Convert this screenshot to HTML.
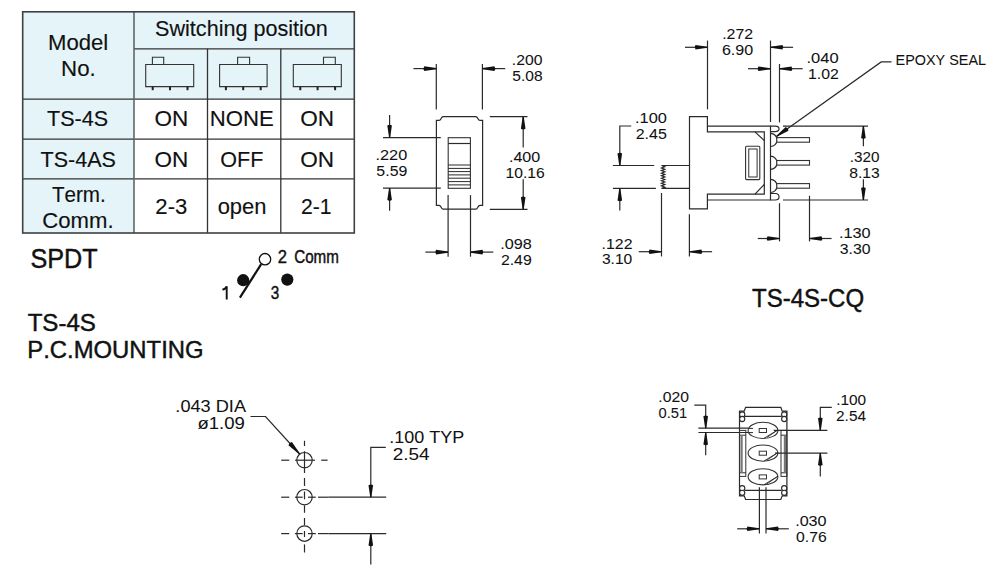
<!DOCTYPE html>
<html><head><meta charset="utf-8"><style>
html,body{margin:0;padding:0;background:#fff;width:1000px;height:576px;overflow:hidden}
svg{display:block}
text{font-family:"Liberation Sans",sans-serif;font-kerning:none}
</style></head><body>
<svg width="1000" height="576" viewBox="0 0 1000 576">
<rect width="1000" height="576" fill="#fff"/>
<rect x="22.7" y="11.8" width="331.6" height="87.4" fill="#e4f4f9"/>
<rect x="22.7" y="99.2" width="111.3" height="133.8" fill="#e4f4f9"/>
<line x1="22.7" y1="99.2" x2="354.3" y2="99.2" stroke="#333" stroke-width="1.3" />
<line x1="22.7" y1="139.2" x2="354.3" y2="139.2" stroke="#333" stroke-width="1.3" />
<line x1="22.7" y1="178.9" x2="354.3" y2="178.9" stroke="#333" stroke-width="1.3" />
<line x1="134" y1="48.8" x2="354.3" y2="48.8" stroke="#333" stroke-width="1.3" />
<line x1="134" y1="11.8" x2="134" y2="233" stroke="#5d6868" stroke-width="1.6" />
<line x1="207.5" y1="48.8" x2="207.5" y2="233" stroke="#333" stroke-width="1.3" />
<line x1="280.8" y1="48.8" x2="280.8" y2="233" stroke="#333" stroke-width="1.3" />
<rect x="22.7" y="11.8" width="331.6" height="221.2" fill="none" stroke="#3c4242" stroke-width="1.6"/>
<text x="155.10" y="36.22" font-size="22.40" textLength="172.73" lengthAdjust="spacingAndGlyphs" fill="#111"  stroke="#111" stroke-width="0.15">Switching position</text>
<text x="48.06" y="50.42" font-size="22.40" textLength="60.24" lengthAdjust="spacingAndGlyphs" fill="#111"  stroke="#111" stroke-width="0.15">Model</text>
<text x="61.05" y="76.17" font-size="22.40" textLength="34.66" lengthAdjust="spacingAndGlyphs" fill="#111"  stroke="#111" stroke-width="0.15">No.</text>
<text x="46.99" y="125.72" font-size="22.40" textLength="61.12" lengthAdjust="spacingAndGlyphs" fill="#111"  stroke="#111" stroke-width="0.15">TS-4S</text>
<text x="154.41" y="125.72" font-size="22.40" textLength="33.75" lengthAdjust="spacingAndGlyphs" fill="#111"  stroke="#111" stroke-width="0.15">ON</text>
<text x="209.86" y="125.72" font-size="22.40" textLength="64.02" lengthAdjust="spacingAndGlyphs" fill="#111"  stroke="#111" stroke-width="0.15">NONE</text>
<text x="300.31" y="125.72" font-size="22.40" textLength="33.86" lengthAdjust="spacingAndGlyphs" fill="#111"  stroke="#111" stroke-width="0.15">ON</text>
<text x="40.49" y="166.62" font-size="22.40" textLength="75.42" lengthAdjust="spacingAndGlyphs" fill="#111"  stroke="#111" stroke-width="0.15">TS-4AS</text>
<text x="154.41" y="166.62" font-size="22.40" textLength="33.75" lengthAdjust="spacingAndGlyphs" fill="#111"  stroke="#111" stroke-width="0.15">ON</text>
<text x="220.35" y="166.62" font-size="22.40" textLength="43.14" lengthAdjust="spacingAndGlyphs" fill="#111"  stroke="#111" stroke-width="0.15">OFF</text>
<text x="300.31" y="166.62" font-size="22.40" textLength="33.86" lengthAdjust="spacingAndGlyphs" fill="#111"  stroke="#111" stroke-width="0.15">ON</text>
<text x="51.91" y="201.83" font-size="22.40" textLength="53.90" lengthAdjust="spacingAndGlyphs" fill="#111"  stroke="#111" stroke-width="0.15">Term.</text>
<text x="42.25" y="227.73" font-size="22.40" textLength="71.29" lengthAdjust="spacingAndGlyphs" fill="#111"  stroke="#111" stroke-width="0.15">Comm.</text>
<text x="155.36" y="213.93" font-size="22.40" textLength="31.93" lengthAdjust="spacingAndGlyphs" fill="#111"  stroke="#111" stroke-width="0.15">2-3</text>
<text x="217.65" y="213.93" font-size="22.40" textLength="48.80" lengthAdjust="spacingAndGlyphs" fill="#111"  stroke="#111" stroke-width="0.15">open</text>
<text x="301.01" y="213.93" font-size="22.40" textLength="30.54" lengthAdjust="spacingAndGlyphs" fill="#111"  stroke="#111" stroke-width="0.15">2-1</text>
<path d="M145.7,64.5 H193.7 V86.6 H145.7 Z" stroke="#333" stroke-width="1.1" fill="none" />
<path d="M152.4,64.5 V57.3 H163.7 V64.5" stroke="#333" stroke-width="1.1" fill="none" />
<line x1="152.70000000000002" y1="86.6" x2="152.70000000000002" y2="90.2" stroke="#222" stroke-width="2.0" />
<line x1="170.0" y1="86.6" x2="170.0" y2="90.2" stroke="#222" stroke-width="2.0" />
<line x1="187.5" y1="86.6" x2="187.5" y2="90.2" stroke="#222" stroke-width="2.0" />
<path d="M219.6,64.5 H267.1 V86.6 H219.6 Z" stroke="#333" stroke-width="1.1" fill="none" />
<path d="M237.6,64.5 V57.3 H249.6 V64.5" stroke="#333" stroke-width="1.1" fill="none" />
<line x1="225.9" y1="86.6" x2="225.9" y2="90.2" stroke="#222" stroke-width="2.0" />
<line x1="243.20000000000002" y1="86.6" x2="243.20000000000002" y2="90.2" stroke="#222" stroke-width="2.0" />
<line x1="260.7" y1="86.6" x2="260.7" y2="90.2" stroke="#222" stroke-width="2.0" />
<path d="M293.3,64.5 H341.3 V86.6 H293.3 Z" stroke="#333" stroke-width="1.1" fill="none" />
<path d="M323.5,64.5 V57.3 H335.3 V64.5" stroke="#333" stroke-width="1.1" fill="none" />
<line x1="300.3" y1="86.6" x2="300.3" y2="90.2" stroke="#222" stroke-width="2.0" />
<line x1="317.6" y1="86.6" x2="317.6" y2="90.2" stroke="#222" stroke-width="2.0" />
<line x1="335.1" y1="86.6" x2="335.1" y2="90.2" stroke="#222" stroke-width="2.0" />
<text x="30.48" y="267.97" font-size="28.50" textLength="67.27" lengthAdjust="spacingAndGlyphs" fill="#111"  stroke="#111" stroke-width="0.45">SPDT</text>
<text x="27.68" y="330.77" font-size="24.00" textLength="68.19" lengthAdjust="spacingAndGlyphs" fill="#111"  stroke="#111" stroke-width="0.45">TS-4S</text>
<text x="27.27" y="357.77" font-size="24.00" textLength="176.29" lengthAdjust="spacingAndGlyphs" fill="#111"  stroke="#111" stroke-width="0.45">P.C.MOUNTING</text>
<circle cx="265" cy="259.2" r="5.7" fill="none" stroke="#111" stroke-width="1.3"/>
<circle cx="243.2" cy="280.2" r="6.1" fill="#111"/>
<circle cx="287.3" cy="279.6" r="6.1" fill="#111"/>
<line x1="239.9" y1="297.6" x2="261.2" y2="264.2" stroke="#111" stroke-width="2.2" />
<path d="M226.7,299.6 V286.3 C225.9,288.4 224.2,289.3 222.4,289.6" stroke="#111" stroke-width="1.9" fill="none" />
<text x="270.64" y="299.27" font-size="19.20" textLength="8.50" lengthAdjust="spacingAndGlyphs" fill="#111"  stroke="#111" stroke-width="0.45">3</text>
<text x="277.69" y="263.27" font-size="19.20" textLength="9.22" lengthAdjust="spacingAndGlyphs" fill="#111"  stroke="#111" stroke-width="0.45">2</text>
<text x="294.20" y="263.07" font-size="18.00" textLength="44.67" lengthAdjust="spacingAndGlyphs" fill="#111"  stroke="#111" stroke-width="0.45">Comm</text>
<path d="M436.4,120.4 H439 C441.5,120.4 440.8,116.6 443.2,116.6 H475.8 C478.2,116.6 477.5,120.4 480,120.4 H482.6 V205.3 H480 C477.5,205.3 478.2,209.2 475.8,209.2 H443.2 C440.8,209.2 441.5,205.3 439,205.3 H436.4 Z" stroke="#2a2a2a" stroke-width="1.2" fill="none" />
<rect x="448.2" y="137.7" width="22.2" height="50.6" fill="none" stroke="#333" stroke-width="1.1"/>
<line x1="448.2" y1="143.5" x2="470.4" y2="143.5" stroke="#2a2a2a" stroke-width="1.2" />
<line x1="448.2" y1="165" x2="470.4" y2="165" stroke="#2a2a2a" stroke-width="1.0" />
<line x1="448.2" y1="168.4" x2="470.4" y2="168.4" stroke="#2a2a2a" stroke-width="1.0" />
<line x1="448.2" y1="171.6" x2="470.4" y2="171.6" stroke="#2a2a2a" stroke-width="1.0" />
<line x1="448.2" y1="174.9" x2="470.4" y2="174.9" stroke="#2a2a2a" stroke-width="1.0" />
<line x1="448.2" y1="178.2" x2="470.4" y2="178.2" stroke="#2a2a2a" stroke-width="1.0" />
<line x1="448.2" y1="181.6" x2="470.4" y2="181.6" stroke="#2a2a2a" stroke-width="1.0" />
<line x1="448.2" y1="184.9" x2="470.4" y2="184.9" stroke="#2a2a2a" stroke-width="1.0" />
<line x1="436.3" y1="64" x2="436.3" y2="109.5" stroke="#2a2a2a" stroke-width="1.2" />
<line x1="482.4" y1="64" x2="482.4" y2="109.5" stroke="#2a2a2a" stroke-width="1.2" />
<line x1="413.5" y1="68.6" x2="436.3" y2="68.6" stroke="#2a2a2a" stroke-width="1.2" />
<path d="M436.30,69.15 L424.30,70.90 Q422.70,68.60 424.30,66.30 L436.30,68.05 Z" fill="#111"/>
<line x1="482.4" y1="68.6" x2="505.2" y2="68.6" stroke="#2a2a2a" stroke-width="1.2" />
<path d="M482.40,68.05 L494.40,66.30 Q496.00,68.60 494.40,70.90 L482.40,69.15 Z" fill="#111"/>
<text x="511.89" y="65.47" font-size="14.20" textLength="30.60" lengthAdjust="spacingAndGlyphs" fill="#111"  stroke="#111" stroke-width="0.05">.200</text>
<text x="512.30" y="81.17" font-size="14.20" textLength="30.25" lengthAdjust="spacingAndGlyphs" fill="#111"  stroke="#111" stroke-width="0.05">5.08</text>
<line x1="383" y1="137.6" x2="440.8" y2="137.6" stroke="#2a2a2a" stroke-width="1.2" />
<line x1="383" y1="188.1" x2="440.8" y2="188.1" stroke="#2a2a2a" stroke-width="1.2" />
<line x1="389.6" y1="115" x2="389.6" y2="137.6" stroke="#2a2a2a" stroke-width="1.2" />
<path d="M389.05,137.60 L387.30,125.60 Q389.60,124.00 391.90,125.60 L390.15,137.60 Z" fill="#111"/>
<line x1="389.6" y1="210.7" x2="389.6" y2="188.1" stroke="#2a2a2a" stroke-width="1.2" />
<path d="M390.15,188.10 L391.90,200.10 Q389.60,201.70 387.30,200.10 L389.05,188.10 Z" fill="#111"/>
<text x="375.54" y="159.68" font-size="14.20" textLength="31.67" lengthAdjust="spacingAndGlyphs" fill="#111"  stroke="#111" stroke-width="0.05">.220</text>
<text x="376.39" y="175.57" font-size="14.20" textLength="30.94" lengthAdjust="spacingAndGlyphs" fill="#111"  stroke="#111" stroke-width="0.05">5.59</text>
<line x1="489.8" y1="116.7" x2="527.5" y2="116.7" stroke="#2a2a2a" stroke-width="1.2" />
<line x1="489.8" y1="209.3" x2="527.5" y2="209.3" stroke="#2a2a2a" stroke-width="1.2" />
<line x1="523.2" y1="116.7" x2="523.2" y2="147.4" stroke="#2a2a2a" stroke-width="1.2" />
<path d="M523.75,116.70 L525.50,128.70 Q523.20,130.30 520.90,128.70 L522.65,116.70 Z" fill="#111"/>
<line x1="523.2" y1="179.3" x2="523.2" y2="209.3" stroke="#2a2a2a" stroke-width="1.2" />
<path d="M522.65,209.30 L520.90,197.30 Q523.20,195.70 525.50,197.30 L523.75,209.30 Z" fill="#111"/>
<text x="508.96" y="161.97" font-size="14.20" textLength="31.24" lengthAdjust="spacingAndGlyphs" fill="#111"  stroke="#111" stroke-width="0.05">.400</text>
<text x="505.63" y="177.78" font-size="14.20" textLength="39.13" lengthAdjust="spacingAndGlyphs" fill="#111"  stroke="#111" stroke-width="0.05">10.16</text>
<line x1="448.1" y1="195.1" x2="448.1" y2="256.7" stroke="#2a2a2a" stroke-width="1.2" />
<line x1="470.5" y1="195.1" x2="470.5" y2="256.7" stroke="#2a2a2a" stroke-width="1.2" />
<line x1="425.4" y1="252.1" x2="448.1" y2="252.1" stroke="#2a2a2a" stroke-width="1.2" />
<path d="M448.10,252.65 L436.10,254.40 Q434.50,252.10 436.10,249.80 L448.10,251.55 Z" fill="#111"/>
<line x1="470.5" y1="252.1" x2="493.3" y2="252.1" stroke="#2a2a2a" stroke-width="1.2" />
<path d="M470.50,251.55 L482.50,249.80 Q484.10,252.10 482.50,254.40 L470.50,252.65 Z" fill="#111"/>
<text x="500.25" y="248.68" font-size="14.20" textLength="31.53" lengthAdjust="spacingAndGlyphs" fill="#111"  stroke="#111" stroke-width="0.05">.098</text>
<text x="500.93" y="264.77" font-size="14.20" textLength="30.80" lengthAdjust="spacingAndGlyphs" fill="#111"  stroke="#111" stroke-width="0.05">2.49</text>
<path d="M689.5,116.7 H707.4 V131.9 H764.3 V194.2 H707.4 V208.9 H689.5 Z" stroke="#2a2a2a" stroke-width="1.2" fill="none" />
<path d="M707.4,126.1 H770.5 V200 H707.4" stroke="#2a2a2a" stroke-width="1.2" fill="none" />
<line x1="755" y1="131.9" x2="764.3" y2="140.6" stroke="#2a2a2a" stroke-width="1.2" />
<line x1="755" y1="194.2" x2="764.3" y2="184.4" stroke="#2a2a2a" stroke-width="1.2" />
<rect x="745.6" y="146.2" width="14.2" height="33.4" rx="1" fill="none" stroke="#333" stroke-width="1.1"/>
<rect x="748.75" y="149" width="8.35" height="28" fill="none" stroke="#333" stroke-width="1.0"/>
<path d="M770.5,126.1 H775.2 C780.3,126.1 780.3,131.6 775.2,131.6 H770.5" stroke="#2a2a2a" stroke-width="1.2" fill="none" />
<path d="M770.5,193.5 H775.2 C780.3,193.5 780.3,200 775.2,200 H770.5" stroke="#2a2a2a" stroke-width="1.2" fill="none" />
<path d="M770.5,133.3 A6.6,6.6 0 0 1 770.5,146.5" stroke="#2a2a2a" stroke-width="1.2" fill="none" />
<rect x="776.8" y="137.6" width="32.7" height="4.6" fill="#fff" stroke="#333" stroke-width="1.1"/>
<path d="M770.5,156.2 A6.6,6.6 0 0 1 770.5,169.4" stroke="#2a2a2a" stroke-width="1.2" fill="none" />
<rect x="776.8" y="160.5" width="32.7" height="4.6" fill="#fff" stroke="#333" stroke-width="1.1"/>
<path d="M770.5,179.3 A6.6,6.6 0 0 1 770.5,192.5" stroke="#2a2a2a" stroke-width="1.2" fill="none" />
<rect x="776.8" y="183.6" width="32.7" height="4.6" fill="#fff" stroke="#333" stroke-width="1.1"/>
<path d="M689.5,165.5 H661.5 L664.8,166.77 L661.5,168.04 L664.8,169.32 L661.5,170.59 L664.8,171.86 L661.5,173.13 L664.8,174.41 L661.5,175.68 L664.8,176.95 L661.5,178.22 L664.8,179.49 L661.5,180.77 L664.8,182.04 L661.5,183.31 L664.8,184.58 L661.5,185.86 L664.8,187.13 L661.5,188.40 H689.5" stroke="#2a2a2a" stroke-width="1.2" fill="none" />
<line x1="612.9" y1="165.5" x2="654.2" y2="165.5" stroke="#2a2a2a" stroke-width="1.2" />
<line x1="612.9" y1="188.4" x2="655.9" y2="188.4" stroke="#2a2a2a" stroke-width="1.2" />
<path d="M631.25,126 H619.8 V165.5" stroke="#2a2a2a" stroke-width="1.2" fill="none" />
<path d="M619.25,165.50 L617.50,153.50 Q619.80,151.90 622.10,153.50 L620.35,165.50 Z" fill="#111"/>
<line x1="619.8" y1="210.4" x2="619.8" y2="188.4" stroke="#2a2a2a" stroke-width="1.2" />
<path d="M620.35,188.40 L622.10,200.40 Q619.80,202.00 617.50,200.40 L619.25,188.40 Z" fill="#111"/>
<text x="635.03" y="122.88" font-size="14.20" textLength="31.83" lengthAdjust="spacingAndGlyphs" fill="#111"  stroke="#111" stroke-width="0.05">.100</text>
<text x="635.72" y="138.88" font-size="14.20" textLength="31.18" lengthAdjust="spacingAndGlyphs" fill="#111"  stroke="#111" stroke-width="0.05">2.45</text>
<line x1="707.5" y1="40.6" x2="707.5" y2="109.4" stroke="#2a2a2a" stroke-width="1.2" />
<line x1="770.5" y1="40.6" x2="770.5" y2="122" stroke="#2a2a2a" stroke-width="1.2" />
<line x1="685" y1="47.3" x2="707.5" y2="47.3" stroke="#2a2a2a" stroke-width="1.2" />
<path d="M707.50,47.85 L695.50,49.60 Q693.90,47.30 695.50,45.00 L707.50,46.75 Z" fill="#111"/>
<line x1="770.5" y1="47.3" x2="793.1" y2="47.3" stroke="#2a2a2a" stroke-width="1.2" />
<path d="M770.50,46.75 L782.50,45.00 Q784.10,47.30 782.50,49.60 L770.50,47.85 Z" fill="#111"/>
<text x="722.18" y="39.08" font-size="14.20" textLength="30.90" lengthAdjust="spacingAndGlyphs" fill="#111"  stroke="#111" stroke-width="0.05">.272</text>
<text x="721.91" y="55.08" font-size="14.20" textLength="31.29" lengthAdjust="spacingAndGlyphs" fill="#111"  stroke="#111" stroke-width="0.05">6.90</text>
<line x1="779.5" y1="64" x2="779.5" y2="122.4" stroke="#2a2a2a" stroke-width="1.2" />
<line x1="748" y1="68.7" x2="770.5" y2="68.7" stroke="#2a2a2a" stroke-width="1.2" />
<path d="M770.50,69.25 L758.50,71.00 Q756.90,68.70 758.50,66.40 L770.50,68.15 Z" fill="#111"/>
<line x1="779.5" y1="68.7" x2="802.7" y2="68.7" stroke="#2a2a2a" stroke-width="1.2" />
<path d="M779.50,68.15 L791.50,66.40 Q793.10,68.70 791.50,71.00 L779.50,69.25 Z" fill="#111"/>
<text x="806.52" y="62.98" font-size="14.20" textLength="32.10" lengthAdjust="spacingAndGlyphs" fill="#111"  stroke="#111" stroke-width="0.05">.040</text>
<text x="808.02" y="78.58" font-size="14.20" textLength="30.75" lengthAdjust="spacingAndGlyphs" fill="#111"  stroke="#111" stroke-width="0.05">1.02</text>
<path d="M891.5,61.9 H881.2 L776.5,136.4" stroke="#2a2a2a" stroke-width="1.2" fill="none" />
<path d="M776.18,135.95 L785.70,126.91 Q788.40,127.94 788.48,130.82 L776.82,136.85 Z" fill="#111"/>
<text x="895.64" y="65.38" font-size="14.20" textLength="90.41" lengthAdjust="spacingAndGlyphs" fill="#111"  stroke="#111" stroke-width="0.05">EPOXY SEAL</text>
<line x1="783" y1="126.1" x2="868" y2="126.1" stroke="#2a2a2a" stroke-width="1.2" />
<line x1="783" y1="200" x2="868" y2="200" stroke="#2a2a2a" stroke-width="1.2" />
<line x1="863.4" y1="126.1" x2="863.4" y2="146.3" stroke="#2a2a2a" stroke-width="1.2" />
<path d="M863.95,126.10 L865.70,138.10 Q863.40,139.70 861.10,138.10 L862.85,126.10 Z" fill="#111"/>
<line x1="863.4" y1="179.3" x2="863.4" y2="200" stroke="#2a2a2a" stroke-width="1.2" />
<path d="M862.85,200.00 L861.10,188.00 Q863.40,186.40 865.70,188.00 L863.95,200.00 Z" fill="#111"/>
<text x="849.83" y="162.07" font-size="14.20" textLength="29.74" lengthAdjust="spacingAndGlyphs" fill="#111"  stroke="#111" stroke-width="0.05">.320</text>
<text x="849.25" y="178.07" font-size="14.20" textLength="30.42" lengthAdjust="spacingAndGlyphs" fill="#111"  stroke="#111" stroke-width="0.05">8.13</text>
<line x1="661.5" y1="193" x2="661.5" y2="256.4" stroke="#2a2a2a" stroke-width="1.2" />
<line x1="689.4" y1="214.3" x2="689.4" y2="256.4" stroke="#2a2a2a" stroke-width="1.2" />
<line x1="638.7" y1="251.7" x2="661.5" y2="251.7" stroke="#2a2a2a" stroke-width="1.2" />
<path d="M661.50,252.25 L649.50,254.00 Q647.90,251.70 649.50,249.40 L661.50,251.15 Z" fill="#111"/>
<line x1="689.4" y1="251.7" x2="712.1" y2="251.7" stroke="#2a2a2a" stroke-width="1.2" />
<path d="M689.40,251.15 L701.40,249.40 Q703.00,251.70 701.40,254.00 L689.40,252.25 Z" fill="#111"/>
<text x="601.58" y="248.68" font-size="14.20" textLength="30.90" lengthAdjust="spacingAndGlyphs" fill="#111"  stroke="#111" stroke-width="0.05">.122</text>
<text x="601.93" y="264.18" font-size="14.20" textLength="30.35" lengthAdjust="spacingAndGlyphs" fill="#111"  stroke="#111" stroke-width="0.05">3.10</text>
<line x1="779.5" y1="203.2" x2="779.5" y2="241.4" stroke="#2a2a2a" stroke-width="1.2" />
<line x1="809.5" y1="195.8" x2="809.5" y2="241.4" stroke="#2a2a2a" stroke-width="1.2" />
<line x1="757.7" y1="238.5" x2="779.5" y2="238.5" stroke="#2a2a2a" stroke-width="1.2" />
<path d="M779.50,239.05 L767.50,240.80 Q765.90,238.50 767.50,236.20 L779.50,237.95 Z" fill="#111"/>
<line x1="809.5" y1="238.5" x2="831.6" y2="238.5" stroke="#2a2a2a" stroke-width="1.2" />
<path d="M809.50,237.95 L821.50,236.20 Q823.10,238.50 821.50,240.80 L809.50,239.05 Z" fill="#111"/>
<text x="838.94" y="237.97" font-size="14.20" textLength="31.67" lengthAdjust="spacingAndGlyphs" fill="#111"  stroke="#111" stroke-width="0.05">.130</text>
<text x="839.82" y="254.18" font-size="14.20" textLength="30.77" lengthAdjust="spacingAndGlyphs" fill="#111"  stroke="#111" stroke-width="0.05">3.30</text>
<text x="751.99" y="306.67" font-size="25.40" textLength="112.14" lengthAdjust="spacingAndGlyphs" fill="#111"  stroke="#111" stroke-width="0.45">TS-4S-CQ</text>
<circle cx="304.5" cy="460.2" r="7.7" fill="none" stroke="#2a2a2a" stroke-width="1.2"/>
<line x1="295.1" y1="460.2" x2="315" y2="460.2" stroke="#2a2a2a" stroke-width="1.2" />
<line x1="321.2" y1="460.2" x2="327.6" y2="460.2" stroke="#2a2a2a" stroke-width="1.2" />
<line x1="281.2" y1="460.2" x2="289.3" y2="460.2" stroke="#2a2a2a" stroke-width="1.2" />
<circle cx="304.5" cy="497.2" r="7.7" fill="none" stroke="#2a2a2a" stroke-width="1.2"/>
<line x1="295" y1="497.2" x2="302.7" y2="497.2" stroke="#2a2a2a" stroke-width="1.2" />
<line x1="308" y1="497.2" x2="315.8" y2="497.2" stroke="#2a2a2a" stroke-width="1.2" />
<line x1="318" y1="497.2" x2="328.3" y2="497.2" stroke="#2a2a2a" stroke-width="1.2" />
<line x1="281.2" y1="497.2" x2="289.3" y2="497.2" stroke="#2a2a2a" stroke-width="1.2" />
<circle cx="304.5" cy="533.6" r="7.7" fill="none" stroke="#2a2a2a" stroke-width="1.2"/>
<line x1="295" y1="533.6" x2="302.7" y2="533.6" stroke="#2a2a2a" stroke-width="1.2" />
<line x1="308" y1="533.6" x2="315.8" y2="533.6" stroke="#2a2a2a" stroke-width="1.2" />
<line x1="318" y1="533.6" x2="328.3" y2="533.6" stroke="#2a2a2a" stroke-width="1.2" />
<line x1="281.2" y1="533.6" x2="289.3" y2="533.6" stroke="#2a2a2a" stroke-width="1.2" />
<line x1="304.5" y1="440.8" x2="304.5" y2="446" stroke="#2a2a2a" stroke-width="1.2" />
<line x1="304.5" y1="451.2" x2="304.5" y2="473" stroke="#2a2a2a" stroke-width="1.2" />
<line x1="304.5" y1="478" x2="304.5" y2="486" stroke="#2a2a2a" stroke-width="1.2" />
<line x1="304.5" y1="491.5" x2="304.5" y2="499.3" stroke="#2a2a2a" stroke-width="1.2" />
<line x1="304.5" y1="505.4" x2="304.5" y2="512.8" stroke="#2a2a2a" stroke-width="1.2" />
<line x1="304.5" y1="518" x2="304.5" y2="525.2" stroke="#2a2a2a" stroke-width="1.2" />
<line x1="304.5" y1="531" x2="304.5" y2="537" stroke="#2a2a2a" stroke-width="1.2" />
<line x1="304.5" y1="544.4" x2="304.5" y2="552.5" stroke="#2a2a2a" stroke-width="1.2" />
<path d="M250.5,416.5 H265.5 L299.6,454" stroke="#2a2a2a" stroke-width="1.2" fill="none" />
<path d="M299.19,454.37 L288.41,445.26 Q289.10,442.46 291.96,442.03 L300.01,453.63 Z" fill="#111"/>
<text x="175.37" y="412.38" font-size="17.00" textLength="70.64" lengthAdjust="spacingAndGlyphs" fill="#111"  stroke="#111" stroke-width="0.05">.043 DIA</text>
<text x="197.43" y="429.38" font-size="17.00" textLength="47.43" lengthAdjust="spacingAndGlyphs" fill="#111"  stroke="#111" stroke-width="0.05">ø1.09</text>
<line x1="328.3" y1="497.2" x2="386.2" y2="497.2" stroke="#2a2a2a" stroke-width="1.2" />
<line x1="328.3" y1="533.6" x2="386.2" y2="533.6" stroke="#2a2a2a" stroke-width="1.2" />
<path d="M385.8,447.4 H370.8 V497.2" stroke="#2a2a2a" stroke-width="1.2" fill="none" />
<path d="M370.25,497.20 L368.50,485.20 Q370.80,483.60 373.10,485.20 L371.35,497.20 Z" fill="#111"/>
<line x1="370.8" y1="564.4" x2="370.8" y2="533.6" stroke="#2a2a2a" stroke-width="1.2" />
<path d="M371.35,533.60 L373.10,545.60 Q370.80,547.20 368.50,545.60 L370.25,533.60 Z" fill="#111"/>
<text x="389.38" y="443.18" font-size="16.50" textLength="74.94" lengthAdjust="spacingAndGlyphs" fill="#111"  stroke="#111" stroke-width="0.05">.100 TYP</text>
<text x="392.67" y="459.98" font-size="16.50" textLength="36.86" lengthAdjust="spacingAndGlyphs" fill="#111"  stroke="#111" stroke-width="0.05">2.54</text>
<path d="M739.5,411.2 H744.2 L745.6,407.3 H780.8 L782.2,411.2 H786.9 V495.8 H782.2 L780.8,499.5 H745.6 L744.2,495.8 H739.5 Z" stroke="#2a2a2a" stroke-width="1.2" fill="none" />
<circle cx="742.2" cy="414.5" r="2.6" fill="#fff" stroke="#2a2a2a" stroke-width="1.1"/>
<circle cx="742.2" cy="419.0" r="2.6" fill="#fff" stroke="#2a2a2a" stroke-width="1.1"/>
<circle cx="742.2" cy="488.2" r="2.6" fill="#fff" stroke="#2a2a2a" stroke-width="1.1"/>
<circle cx="742.2" cy="492.8" r="2.6" fill="#fff" stroke="#2a2a2a" stroke-width="1.1"/>
<circle cx="784.2" cy="414.5" r="2.6" fill="#fff" stroke="#2a2a2a" stroke-width="1.1"/>
<circle cx="784.2" cy="419.0" r="2.6" fill="#fff" stroke="#2a2a2a" stroke-width="1.1"/>
<circle cx="784.2" cy="488.2" r="2.6" fill="#fff" stroke="#2a2a2a" stroke-width="1.1"/>
<circle cx="784.2" cy="492.8" r="2.6" fill="#fff" stroke="#2a2a2a" stroke-width="1.1"/>
<line x1="744.8" y1="416.4" x2="781.6" y2="416.4" stroke="#2a2a2a" stroke-width="1.2" />
<line x1="744.8" y1="490.4" x2="781.6" y2="490.4" stroke="#2a2a2a" stroke-width="1.2" />
<rect x="739.5" y="430.4" width="6.2999999999999545" height="46" fill="none" stroke="#333" stroke-width="1"/>
<line x1="739.5" y1="435.2" x2="745.8" y2="435.2" stroke="#2a2a2a" stroke-width="1" />
<line x1="739.5" y1="472.8" x2="745.8" y2="472.8" stroke="#2a2a2a" stroke-width="1" />
<rect x="781" y="430.4" width="5.899999999999977" height="46" fill="none" stroke="#333" stroke-width="1"/>
<line x1="781" y1="435.2" x2="786.9" y2="435.2" stroke="#2a2a2a" stroke-width="1" />
<line x1="781" y1="472.8" x2="786.9" y2="472.8" stroke="#2a2a2a" stroke-width="1" />
<line x1="741.6" y1="435.2" x2="741.6" y2="472.8" stroke="#777" stroke-width="2.2" />
<line x1="784.9" y1="435.2" x2="784.9" y2="472.8" stroke="#777" stroke-width="2.2" />
<ellipse cx="763" cy="430.4" rx="14.9" ry="8.1" fill="#fff" stroke="#333" stroke-width="1.1"/>
<rect x="759.2" y="428.5" width="7.3" height="4" fill="none" stroke="#333" stroke-width="1"/>
<path d="M764,438.3 L778,429.8 L767,437.4" stroke="#2a2a2a" stroke-width="0.9" fill="none" />
<ellipse cx="763" cy="453.1" rx="14.9" ry="8.1" fill="#fff" stroke="#333" stroke-width="1.1"/>
<rect x="759.2" y="451.2" width="7.3" height="4" fill="none" stroke="#333" stroke-width="1"/>
<path d="M764,461.0 L778,452.5 L767,460.1" stroke="#2a2a2a" stroke-width="0.9" fill="none" />
<ellipse cx="763" cy="476.8" rx="14.9" ry="8.1" fill="#fff" stroke="#333" stroke-width="1.1"/>
<rect x="759.2" y="474.9" width="7.3" height="4" fill="none" stroke="#333" stroke-width="1"/>
<path d="M764,484.7 L778,476.2 L767,483.8" stroke="#2a2a2a" stroke-width="0.9" fill="none" />
<line x1="698.4" y1="428.2" x2="748" y2="428.2" stroke="#2a2a2a" stroke-width="1.2" />
<line x1="698.4" y1="432.5" x2="748" y2="432.5" stroke="#2a2a2a" stroke-width="1.2" />
<line x1="748.5" y1="428.4" x2="753" y2="428.4" stroke="#2a2a2a" stroke-width="1" />
<line x1="748.5" y1="432.6" x2="753" y2="432.6" stroke="#2a2a2a" stroke-width="1" />
<path d="M694.3,405.2 H705.7 V428.2" stroke="#2a2a2a" stroke-width="1.2" fill="none" />
<path d="M705.15,428.20 L703.40,416.20 Q705.70,414.60 708.00,416.20 L706.25,428.20 Z" fill="#111"/>
<line x1="705.7" y1="455.3" x2="705.7" y2="432.5" stroke="#2a2a2a" stroke-width="1.2" />
<path d="M706.25,432.50 L708.00,444.50 Q705.70,446.10 703.40,444.50 L705.15,432.50 Z" fill="#111"/>
<text x="658.39" y="401.68" font-size="14.20" textLength="30.60" lengthAdjust="spacingAndGlyphs" fill="#111"  stroke="#111" stroke-width="0.05">.020</text>
<text x="658.55" y="417.68" font-size="14.20" textLength="28.64" lengthAdjust="spacingAndGlyphs" fill="#111"  stroke="#111" stroke-width="0.05">0.51</text>
<line x1="773.7" y1="430.3" x2="827.4" y2="430.3" stroke="#2a2a2a" stroke-width="1.2" />
<line x1="775" y1="453.1" x2="827.4" y2="453.1" stroke="#2a2a2a" stroke-width="1.2" />
<path d="M831.8,407.3 H820.3 V430.3" stroke="#2a2a2a" stroke-width="1.2" fill="none" />
<path d="M819.75,430.30 L818.00,418.30 Q820.30,416.70 822.60,418.30 L820.85,430.30 Z" fill="#111"/>
<line x1="820.3" y1="476.5" x2="820.3" y2="453.1" stroke="#2a2a2a" stroke-width="1.2" />
<path d="M820.85,453.10 L822.60,465.10 Q820.30,466.70 818.00,465.10 L819.75,453.10 Z" fill="#111"/>
<text x="836.22" y="404.88" font-size="14.20" textLength="29.96" lengthAdjust="spacingAndGlyphs" fill="#111"  stroke="#111" stroke-width="0.05">.100</text>
<text x="836.05" y="420.88" font-size="14.20" textLength="29.98" lengthAdjust="spacingAndGlyphs" fill="#111"  stroke="#111" stroke-width="0.05">2.54</text>
<line x1="759.4" y1="487.3" x2="759.4" y2="533.6" stroke="#2a2a2a" stroke-width="1.2" />
<line x1="766" y1="487.3" x2="766" y2="533.6" stroke="#2a2a2a" stroke-width="1.2" />
<line x1="737.2" y1="528.8" x2="759.4" y2="528.8" stroke="#2a2a2a" stroke-width="1.2" />
<path d="M759.40,529.35 L747.40,531.10 Q745.80,528.80 747.40,526.50 L759.40,528.25 Z" fill="#111"/>
<line x1="766" y1="528.8" x2="788.8" y2="528.8" stroke="#2a2a2a" stroke-width="1.2" />
<path d="M766.00,528.25 L778.00,526.50 Q779.60,528.80 778.00,531.10 L766.00,529.35 Z" fill="#111"/>
<text x="795.15" y="525.58" font-size="14.20" textLength="31.46" lengthAdjust="spacingAndGlyphs" fill="#111"  stroke="#111" stroke-width="0.05">.030</text>
<text x="796.01" y="541.77" font-size="14.20" textLength="30.66" lengthAdjust="spacingAndGlyphs" fill="#111"  stroke="#111" stroke-width="0.05">0.76</text>
</svg>
</body></html>
